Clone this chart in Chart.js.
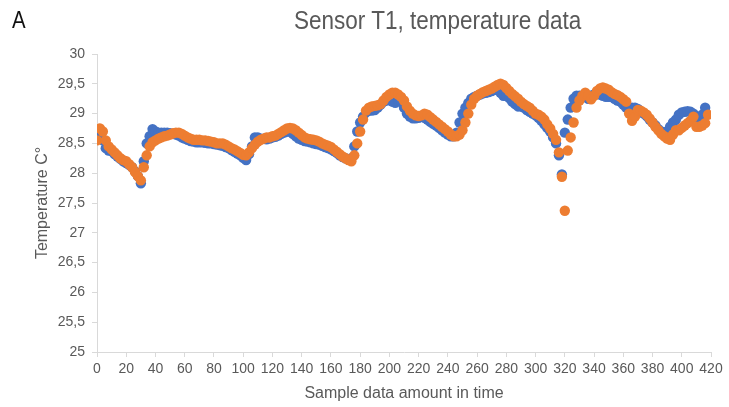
<!DOCTYPE html>
<html>
<head>
<meta charset="utf-8">
<script src="https://cdn.jsdelivr.net/npm/chart.js@4.4.0/dist/chart.umd.min.js"></script>
<style>
  html, body { margin: 0; padding: 0; background: #fff; }
  #wrap { position: relative; width: 729px; height: 407px; }
  #panel-label {
    position: absolute; left: 12px; top: 7px;
    font: 24px 'Liberation Sans Narrow', 'Liberation Sans', Arial, sans-serif;
    line-height: 25px; color: #111;
    transform: scaleX(0.85); transform-origin: left top;
  }
  #chart-title {
    position: absolute; left: 294px; top: 8px;
    font: 25px 'Liberation Sans', Arial, sans-serif;
    line-height: 25px; color: #595959; white-space: nowrap;
    transform: scaleX(0.9); transform-origin: left top;
  }
</style>
</head>
<body>
<div id="wrap">
  <canvas id="chart" width="729" height="407"></canvas>
  <div id="panel-label">A</div>
  <div id="chart-title">Sensor T1, temperature data</div>
</div>
<script>
// Readings, one every 2 samples starting at sample 0
const sampleStep = 2;

const sensorBlue = [
  28.62, 28.68, 28.55, 28.42, 28.38, 28.37, 28.32, 28.28, 28.24, 28.2,
  28.17, 28.14, 28.1, 28.03, 27.95, 27.83, 28.2, 28.5, 28.62, 28.74,
  28.7, 28.68, 28.68, 28.68, 28.68, 28.67, 28.66, 28.65, 28.63, 28.6,
  28.58, 28.56, 28.54, 28.53, 28.52, 28.52, 28.52, 28.51, 28.5, 28.5,
  28.49, 28.48, 28.47, 28.46, 28.44, 28.42, 28.39, 28.36, 28.33, 28.3,
  28.26, 28.22, 28.32, 28.45, 28.6, 28.6, 28.58, 28.58, 28.57, 28.58,
  28.6, 28.61, 28.63, 28.66, 28.68, 28.7, 28.7, 28.66, 28.62, 28.58,
  28.56, 28.54, 28.53, 28.52, 28.5, 28.49, 28.48, 28.46, 28.44, 28.42,
  28.4, 28.37, 28.34, 28.3, 28.27, 28.25, 28.23, 28.25, 28.45, 28.7,
  28.85, 28.95, 29.02, 29.05, 29.05, 29.06, 29.1, 29.15, 29.2, 29.22,
  29.24, 29.2, 29.18, 29.22, 29.2, 29.1, 29.0, 28.95, 28.92, 28.92,
  28.93, 28.95, 28.93, 28.9, 28.86, 28.83, 28.8, 28.76, 28.72, 28.68,
  28.65, 28.62, 28.62, 28.68, 28.85, 29.0, 29.1, 29.18, 29.25, 29.28,
  29.3, 29.32, 29.34, 29.35, 29.36, 29.38, 29.4, 29.4, 29.35, 29.3,
  29.3, 29.26, 29.2, 29.16, 29.12, 29.12, 29.1, 29.06, 29.03, 29.0,
  28.97, 28.93, 28.88, 28.82, 28.76, 28.7, 28.6, 28.5, 28.3, 27.98,
  28.68, 28.9, 29.1, 29.25, 29.3, 29.3, 29.3, 29.28, 29.25, 29.3,
  29.32, 29.33, 29.32, 29.3, 29.28, 29.28, 29.28, 29.25, 29.22, 29.2,
  29.15, 29.1, 29.08, 29.1, 29.1, 29.08, 29.03, 29.0, 28.96, 28.9,
  28.85, 28.8, 28.74, 28.7, 28.68, 28.7, 28.78, 28.85, 28.9, 28.98,
  29.02, 29.03, 29.04, 29.03, 29.0, 28.95, 28.92, 28.98, 29.1, null
];

const sensorOrange = [
  28.55, 28.75, 28.7, 28.55, 28.45, 28.4, 28.35, 28.3, 28.25, 28.22,
  28.2, 28.15, 28.1, 28.02, 27.95, 27.88, 28.1, 28.3, 28.45, 28.52,
  28.55, 28.58, 28.6, 28.62, 28.63, 28.65, 28.67, 28.68, 28.68, 28.66,
  28.63, 28.6, 28.58, 28.56, 28.56, 28.56, 28.55, 28.55, 28.54, 28.53,
  28.52, 28.5, 28.5, 28.5, 28.48, 28.45, 28.42, 28.4, 28.37, 28.34,
  28.31, 28.3, 28.35, 28.42, 28.48, 28.53, 28.56, 28.58, 28.6, 28.6,
  28.62, 28.63, 28.66, 28.69, 28.72, 28.75, 28.76, 28.75, 28.72, 28.68,
  28.64, 28.6, 28.58, 28.57, 28.56, 28.55, 28.53, 28.5, 28.48, 28.46,
  28.44, 28.4, 28.36, 28.32, 28.28, 28.25, 28.22, 28.2, 28.3, 28.5,
  28.7, 28.9, 29.05, 29.1, 29.12, 29.13, 29.14, 29.16, 29.22, 29.28,
  29.32, 29.35, 29.35, 29.32, 29.28, 29.22, 29.12, 29.05, 29.0, 28.97,
  28.96, 28.97, 29.0, 28.98, 28.94, 28.9, 28.86, 28.82, 28.78, 28.74,
  28.7, 28.65, 28.62, 28.62, 28.65, 28.72, 28.85, 29.0, 29.15, 29.25,
  29.3, 29.33, 29.36, 29.38, 29.4, 29.42, 29.45, 29.48, 29.5, 29.48,
  29.43, 29.38, 29.33, 29.29, 29.25, 29.2, 29.16, 29.13, 29.1, 29.05,
  29.0, 28.98, 28.95, 28.9, 28.82, 28.75, 28.66, 28.56, 28.35, 27.94,
  27.37, 28.38, 28.6, 28.85, 29.1, 29.22, 29.3, 29.35, 29.3, 29.24,
  29.3, 29.38, 29.42, 29.44, 29.42, 29.4, 29.36, 29.33, 29.31, 29.28,
  29.24, 29.2, 29.0, 28.88, 28.95, 29.06, 29.05, 29.02, 28.98, 28.92,
  28.85, 28.78, 28.72, 28.66, 28.62, 28.58, 28.56, 28.65, 28.72, 28.72,
  28.76, 28.8, 28.84, 28.88, 28.95, 28.78, 28.78, 28.8, 28.84, 28.98
];

// Axis ranges
const xRange = [0, 420, 20];
const yRange = [25, 30, 0.5];

function toPoints(values) {
  return values
    .map((v, i) => ({ x: i * sampleStep, y: v }))
    .filter(p => p.y !== null);
}

const tickFont = { family: "'Liberation Sans', Arial, sans-serif", size: 14 };
const titleFont = { family: "'Liberation Sans', Arial, sans-serif", size: 16 };
const axisGray = '#d9d9d9';
const textGray = '#595959';

new Chart(document.getElementById('chart'), {
  type: 'scatter',
  data: {
    datasets: [
      {
        label: 'Series1',
        data: toPoints(sensorBlue),
        backgroundColor: '#4472C4',
        borderWidth: 0,
        pointRadius: 5.2,
        order: 2
      },
      {
        label: 'Series2',
        data: toPoints(sensorOrange),
        backgroundColor: '#ED7D31',
        borderWidth: 0,
        pointRadius: 5.2,
        order: 1
      }
    ]
  },
  options: {
    responsive: false,
    animation: false,
    layout: { padding: { left: 0, top: 54, right: 18, bottom: 0 } },
    plugins: {
      legend: { display: false },
      tooltip: { enabled: false }
    },
    scales: {
      x: {
        type: 'linear',
        min: xRange[0],
        max: xRange[1],
        afterFit: scale => { scale.height = 55; },
        border: { color: axisGray, width: 1 },
        grid: { drawOnChartArea: false, drawTicks: true, tickLength: 5, color: axisGray },
        ticks: {
          stepSize: xRange[2],
          padding: 4,
          maxRotation: 0,
          autoSkip: false,
          color: textGray,
          font: tickFont
        },
        title: {
          display: true,
          text: 'Sample data amount in time',
          color: textGray,
          font: titleFont,
          padding: { top: 0, bottom: 4 }
        }
      },
      y: {
        type: 'linear',
        min: yRange[0],
        max: yRange[1],
        afterFit: scale => { scale.width = 97; },
        border: { color: axisGray, width: 1 },
        grid: { drawOnChartArea: false, drawTicks: true, tickLength: 5, color: axisGray },
        ticks: {
          stepSize: yRange[2],
          padding: 7,
          color: textGray,
          font: tickFont,
          callback: v => String(v).replace('.', ',')
        },
        title: {
          display: true,
          text: 'Temperature C°',
          color: textGray,
          font: titleFont,
          padding: { top: 33, bottom: 0 }
        }
      }
    }
  }
});
</script>
</body>
</html>
